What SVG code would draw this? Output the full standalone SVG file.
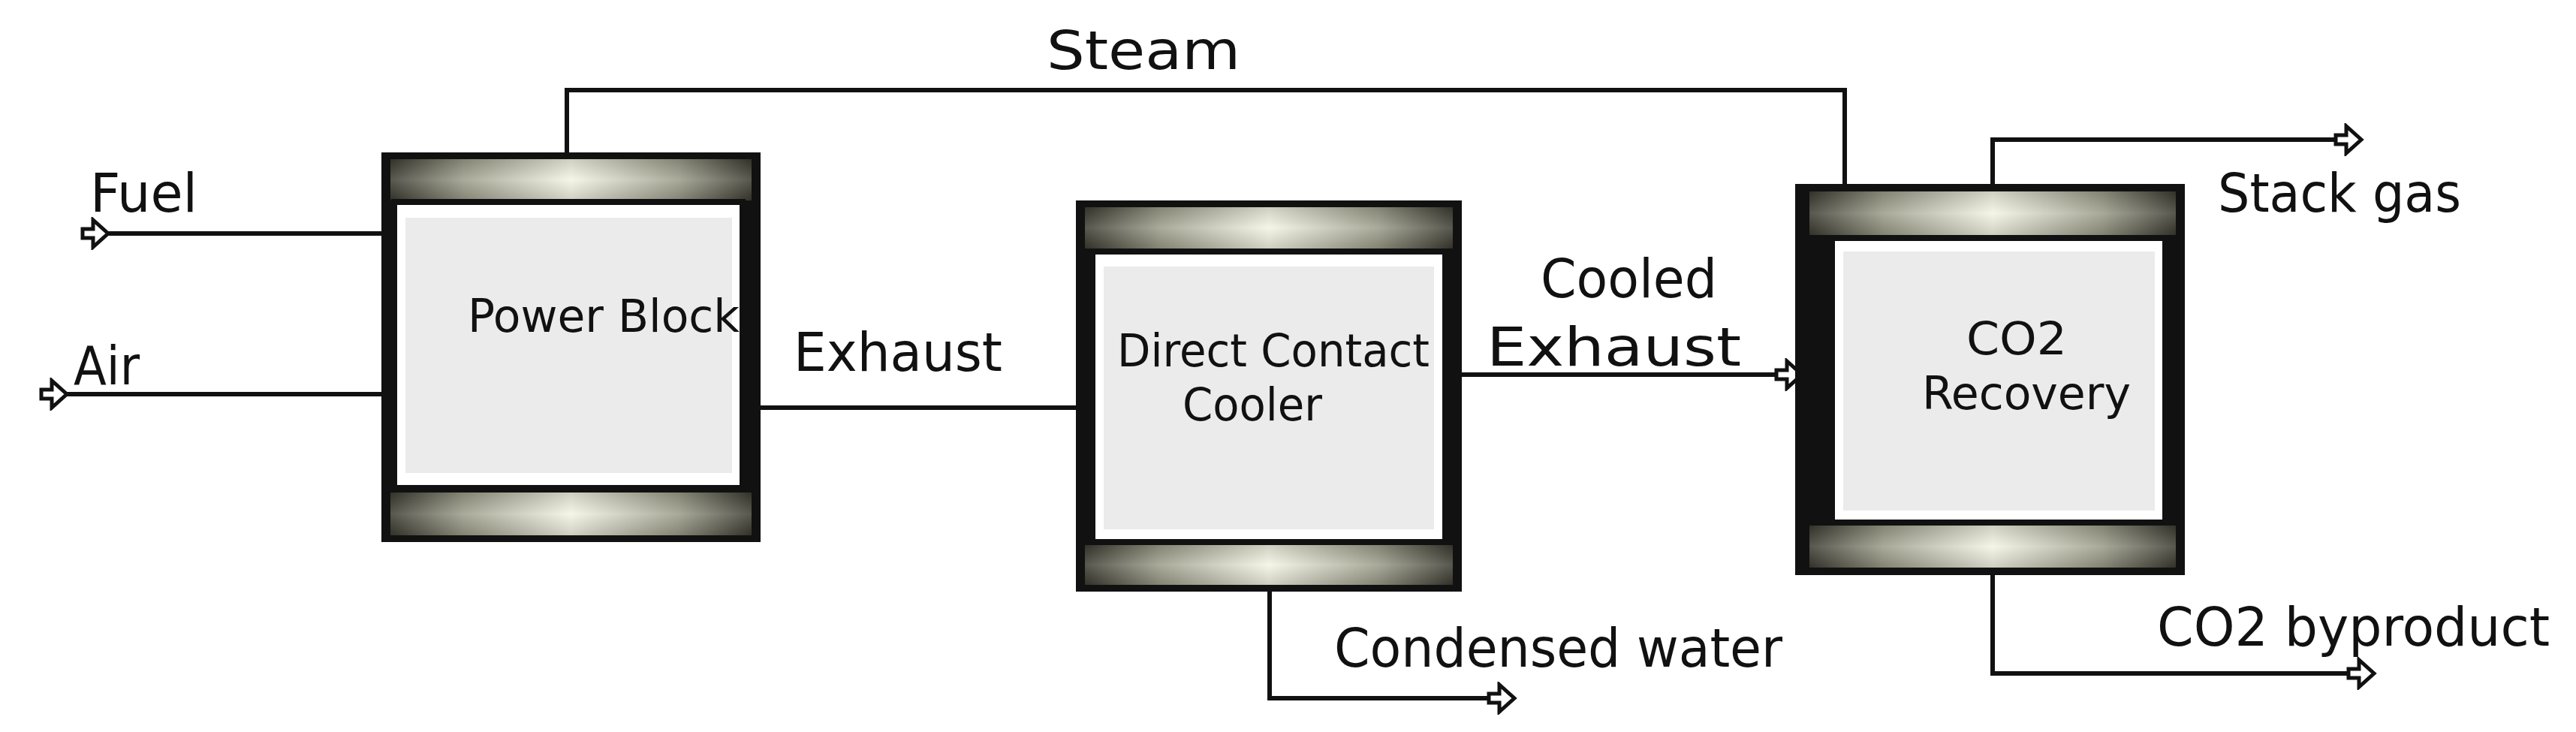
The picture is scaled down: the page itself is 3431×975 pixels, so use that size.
<svg xmlns="http://www.w3.org/2000/svg" width="3431" height="975" viewBox="0 0 3431 975">
<style>
.ln{fill:none;stroke:#111;stroke-width:6}
.t{font-family:"DejaVu Sans Condensed","DejaVu Sans",Verdana,sans-serif;fill:#111}
.e{font-size:72px}
.n{font-size:60px}
.outer{fill:#111}
.body{fill:#fff;stroke:#111;stroke-width:8}
.panel{fill:#ebebeb}
</style>
<defs>
<linearGradient id="cap" x1="0" y1="0" x2="1" y2="0">
<stop offset="0" stop-color="#3a3a30"/>
<stop offset="0.2" stop-color="#9a9a88"/>
<stop offset="0.5" stop-color="#f4f4e4"/>
<stop offset="0.8" stop-color="#9a9a88"/>
<stop offset="1" stop-color="#3a3a30"/>
</linearGradient>
<linearGradient id="capv" x1="0" y1="0" x2="0" y2="1">
<stop offset="0" stop-color="#000" stop-opacity="0.15"/>
<stop offset="0.5" stop-color="#fff" stop-opacity="0.15"/>
<stop offset="1" stop-color="#000" stop-opacity="0.15"/>
</linearGradient>
<marker id="arr" markerUnits="userSpaceOnUse" markerWidth="44" markerHeight="44" refX="4" refY="22" orient="auto" viewBox="0 0 44 44">
<polygon points="4,16 18,16 18,4 38,22 18,40 18,28 4,28" fill="#fff" stroke="#111" stroke-width="5"/>
</marker>
<marker id="arrE" markerUnits="userSpaceOnUse" markerWidth="44" markerHeight="44" refX="38" refY="22" orient="auto" viewBox="0 0 44 44">
<polygon points="4,16 18,16 18,4 38,22 18,40 18,28 4,28" fill="#fff" stroke="#111" stroke-width="5"/>
</marker>
</defs>
<rect width="3431" height="975" fill="#fff"/>
<g id="connectors">
<polyline class="ln" points="755,203 755,120 2457,120 2457,245"/>
<line class="ln" x1="110" y1="311" x2="508" y2="311" marker-start="url(#arr)"/>
<line class="ln" x1="55" y1="525" x2="508" y2="525" marker-start="url(#arr)"/>
<line class="ln" x1="1013" y1="543" x2="1433" y2="543"/>
<line class="ln" x1="1947" y1="499" x2="2400" y2="499" marker-end="url(#arrE)"/>
<polyline class="ln" points="2654,245 2654,186 3145,186" marker-end="url(#arrE)"/>
<polyline class="ln" points="2654,766 2654,897 3162,897" marker-end="url(#arrE)"/>
<polyline class="ln" points="1691,788 1691,930 2017,930" marker-end="url(#arrE)"/>
</g>
<g id="power-block">
<rect class="outer" x="508" y="203" width="505" height="519"/>
<rect x="520" y="212" width="481" height="55" fill="url(#cap)"/><rect x="520" y="212" width="481" height="55" fill="url(#capv)"/>
<rect x="520" y="656" width="481" height="57" fill="url(#cap)"/><rect x="520" y="656" width="481" height="57" fill="url(#capv)"/>
<rect class="body" x="525" y="269" width="464" height="381"/>
<rect class="panel" x="540" y="290" width="435" height="340"/>
<text class="t n" x="623" y="442" textLength="362" lengthAdjust="spacingAndGlyphs">Power Block</text>
</g>
<g id="direct-contact-cooler">
<rect class="outer" x="1433" y="267" width="514" height="521"/>
<rect x="1445" y="276" width="490" height="55" fill="url(#cap)"/><rect x="1445" y="276" width="490" height="55" fill="url(#capv)"/>
<rect x="1445" y="726" width="490" height="53" fill="url(#cap)"/><rect x="1445" y="726" width="490" height="53" fill="url(#capv)"/>
<rect class="body" x="1455" y="335" width="470" height="387"/>
<rect class="panel" x="1470" y="355" width="440" height="350"/>
<text class="t n" x="1488" y="488" textLength="416" lengthAdjust="spacingAndGlyphs">Direct Contact</text>
<text class="t n" x="1575" y="560" textLength="186" lengthAdjust="spacingAndGlyphs">Cooler</text>
</g>
<g id="co2-recovery">
<rect class="outer" x="2391" y="245" width="519" height="521"/>
<rect x="2410" y="255" width="488" height="58" fill="url(#cap)"/><rect x="2410" y="255" width="488" height="58" fill="url(#capv)"/>
<rect x="2410" y="700" width="488" height="56" fill="url(#cap)"/><rect x="2410" y="700" width="488" height="56" fill="url(#capv)"/>
<rect class="body" x="2440" y="317" width="444" height="379"/>
<rect class="panel" x="2455" y="335" width="415" height="345"/>
<text class="t n" x="2619" y="472" textLength="134" lengthAdjust="spacingAndGlyphs">CO2</text>
<text class="t n" x="2560" y="545" textLength="278" lengthAdjust="spacingAndGlyphs">Recovery</text>
</g>
<g id="labels">
<text class="t e" x="1394" y="92" textLength="258" lengthAdjust="spacingAndGlyphs">Steam</text>
<text class="t e" x="120" y="282" textLength="143" lengthAdjust="spacingAndGlyphs">Fuel</text>
<text class="t e" x="98" y="512" textLength="88" lengthAdjust="spacingAndGlyphs">Air</text>
<text class="t e" x="1057" y="494" textLength="278" lengthAdjust="spacingAndGlyphs">Exhaust</text>
<text class="t e" x="2052" y="396" textLength="235" lengthAdjust="spacingAndGlyphs">Cooled</text>
<text class="t e" x="1980" y="487" textLength="339" lengthAdjust="spacingAndGlyphs">Exhaust</text>
<text class="t e" x="2954" y="282" textLength="324" lengthAdjust="spacingAndGlyphs">Stack gas</text>
<text class="t e" x="2873" y="860" textLength="523" lengthAdjust="spacingAndGlyphs">CO2 byproduct</text>
<text class="t e" x="1777" y="888" textLength="597" lengthAdjust="spacingAndGlyphs">Condensed water</text>
</g>
</svg>
